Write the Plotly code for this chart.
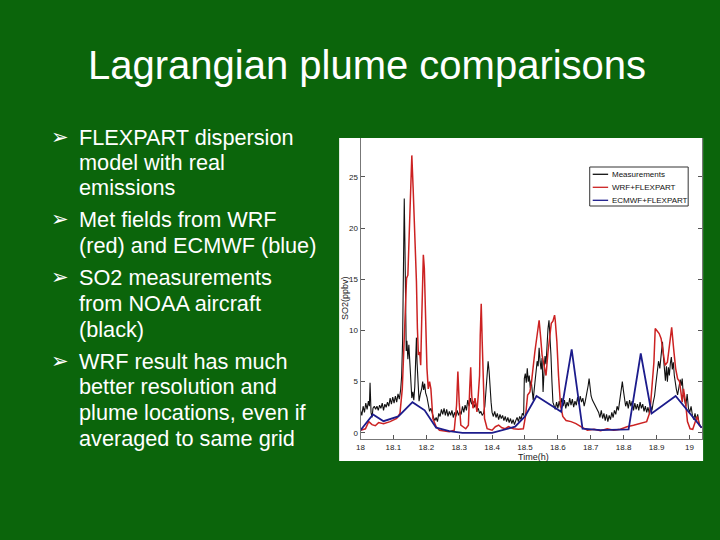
import plotly.graph_objects as go

# ---------------- data ----------------
meas_time = [18.000,18.004,18.008,18.012,18.016,18.020,18.024,18.027,18.029,18.032,18.035,18.038,18.042,18.046,18.050,18.054,18.058,18.062,18.066,18.070,
18.074,18.078,18.082,18.086,18.090,18.094,18.098,18.102,18.106,18.110,18.114,18.118,18.122,18.125,18.128,18.131,18.133,18.135,18.137,18.139,
18.141,18.144,18.147,18.150,18.153,18.156,18.159,18.162,18.165,18.168,18.170,18.172,18.175,18.178,18.182,18.186,18.189,18.192,18.195,18.198,
18.202,18.206,18.210,18.214,18.218,18.222,18.226,18.230,18.234,18.238,18.242,18.246,18.250,18.254,18.258,18.262,18.266,18.270,18.274,18.278,
18.282,18.286,18.290,18.294,18.298,18.302,18.306,18.310,18.314,18.318,18.322,18.326,18.330,18.334,18.338,18.342,18.346,18.350,18.354,18.358,
18.362,18.366,18.370,18.374,18.378,18.382,18.385,18.388,18.391,18.394,18.397,18.400,18.404,18.408,18.412,18.416,18.420,18.424,18.428,18.432,
18.436,18.440,18.444,18.448,18.452,18.456,18.460,18.464,18.468,18.472,18.476,18.480,18.484,18.488,18.492,18.496,18.498,18.501,18.504,18.507,
18.510,18.513,18.516,18.519,18.522,18.525,18.528,18.531,18.534,18.537,18.540,18.543,18.546,18.549,18.552,18.555,18.558,18.561,18.564,18.567,
18.570,18.573,18.576,18.579,18.582,18.585,18.588,18.592,18.596,18.600,18.604,18.608,18.612,18.616,18.620,18.624,18.628,18.632,18.636,18.640,
18.644,18.648,18.652,18.656,18.660,18.664,18.668,18.672,18.676,18.680,18.684,18.688,18.692,18.695,18.698,18.701,18.705,18.720,18.724,18.728,
18.732,18.736,18.740,18.744,18.748,18.752,18.756,18.760,18.764,18.768,18.772,18.776,18.780,18.784,18.788,18.792,18.796,18.799,18.802,18.806,
18.810,18.814,18.818,18.822,18.826,18.830,18.834,18.838,18.842,18.846,18.850,18.854,18.858,18.862,18.866,18.870,18.874,18.878,18.882,18.886,
18.890,18.894,18.898,18.902,18.906,18.910,18.914,18.918,18.921,18.924,18.927,18.930,18.933,18.936,18.939,18.942,18.945,18.948,18.951,18.954,
18.957,18.960,18.964,18.968,18.972,18.975,18.978,18.981,18.985,18.989,18.993,18.997,19.001,19.005,19.009,19.013,19.017,19.021,19.025,19.029,
19.033,19.037]
meas_so2 = [2.2,1.7,2.6,2.0,2.9,2.3,3.1,2.6,4.9,2.0,1.5,2.4,2.6,2.3,2.6,2.2,2.7,2.4,2.9,2.2,
2.8,2.5,3.0,2.6,3.4,2.8,3.5,2.9,3.6,3.0,3.8,3.3,4.2,5.5,9.0,16.0,22.9,18.5,12.0,8.0,
9.0,7.2,8.6,6.5,5.0,3.4,4.0,3.2,4.5,7.5,9.3,6.8,4.2,3.1,3.8,4.3,5.0,4.2,4.8,3.9,
3.5,2.8,2.1,2.4,1.8,1.5,1.2,1.5,1.1,1.9,1.6,2.3,1.8,2.4,1.7,2.3,1.6,2.1,1.7,2.2,
1.5,2.0,1.6,2.2,1.7,2.1,1.8,2.6,2.0,2.7,2.2,3.2,2.6,3.4,2.8,3.1,2.5,2.9,2.2,2.4,
1.9,2.1,1.7,1.9,2.6,4.3,6.3,7.0,6.0,4.2,3.0,2.0,1.6,2.1,1.5,1.9,1.3,1.8,1.4,1.7,
1.2,1.6,1.1,1.5,1.0,1.4,0.9,1.3,0.8,1.2,1.5,1.1,1.6,1.3,1.9,1.7,5.3,5.8,4.9,6.3,
5.0,5.6,4.4,5.1,4.0,3.2,4.2,5.0,5.8,7.0,6.5,8.3,7.0,6.2,7.3,4.0,6.0,7.5,6.7,8.8,
10.2,11.0,9.5,7.6,5.0,3.0,2.7,2.3,3.0,2.4,3.1,2.5,3.4,2.6,3.2,2.4,3.0,2.6,3.4,2.7,
3.3,2.5,3.1,2.7,3.5,2.8,3.6,3.0,3.4,2.6,3.2,3.8,4.6,5.3,4.4,3.6,3.2,2.2,2.0,1.5,
2.2,1.4,1.9,1.2,1.8,1.1,1.7,1.3,2.0,1.5,2.2,1.8,2.6,2.2,3.0,4.2,5.0,4.2,3.4,2.6,
3.1,2.4,3.2,2.6,3.1,2.2,2.9,2.3,2.8,2.2,3.0,2.4,2.8,2.1,2.6,2.0,2.5,1.9,2.6,2.2,
3.0,3.6,4.8,6.2,7.0,6.3,7.6,8.9,7.4,6.0,5.1,6.5,5.0,6.4,5.6,6.8,7.4,6.2,6.9,5.6,
4.8,4.3,3.7,4.4,5.2,4.6,5.3,3.9,3.2,2.6,3.8,2.4,2.0,2.6,1.7,1.3,1.9,1.2,1.8,1.0,
0.7,0.5]

wrf_time = [18.000,18.015,18.025,18.035,18.045,18.055,18.070,18.090,18.110,18.120,18.127,18.130,18.135,18.140,18.144,18.148,18.152,18.156,18.160,18.165,
18.170,18.173,18.176,18.180,18.183,18.186,18.188,18.191,18.194,18.198,18.202,18.206,18.210,18.214,18.220,18.230,18.240,18.270,18.285,18.292,
18.296,18.300,18.305,18.320,18.328,18.332,18.335,18.338,18.342,18.348,18.354,18.358,18.362,18.364,18.367,18.370,18.373,18.377,18.385,18.400,
18.410,18.420,18.430,18.440,18.450,18.465,18.480,18.495,18.502,18.508,18.515,18.520,18.530,18.537,18.543,18.548,18.552,18.558,18.564,18.570,
18.575,18.580,18.585,18.590,18.592,18.597,18.602,18.608,18.615,18.625,18.640,18.655,18.670,18.690,18.710,18.730,18.750,18.770,18.790,18.810,
18.830,18.850,18.870,18.880,18.886,18.892,18.896,18.902,18.908,18.914,18.920,18.926,18.933,18.940,18.946,18.952,18.958,18.964,18.970,18.978,
18.982,18.988,18.994,19.002,19.010,19.018,19.024,19.030,19.037]
wrf_so2 = [0.26,0.4,1.1,0.8,0.7,1.0,0.9,1.1,1.4,1.9,4.3,6.3,10.9,15.1,15.4,19.3,24.2,27.1,23.9,19.6,
14.8,10.2,7.6,7.9,6.6,10.9,14.8,17.4,16.1,10.9,6.3,4.3,5.0,4.3,1.4,0.6,0.26,0.1,0.26,2.7,
6.0,3.0,0.75,0.4,0.75,4.3,6.4,3.7,2.4,3.4,2.05,3.7,5.6,9.5,12.6,8.9,4.3,1.4,0.4,0.26,
0.6,0.75,0.5,0.4,0.6,0.4,0.35,0.4,1.7,3.7,4.0,5.0,7.9,9.5,11.0,9.2,7.6,6.6,5.6,7.9,
9.5,10.7,10.9,11.5,11.0,8.9,5.6,2.7,1.6,1.2,1.1,0.9,0.6,0.26,0.35,0.2,0.4,0.25,0.36,0.6,
0.75,0.9,1.1,2.05,4.3,6.9,10.2,9.9,9.7,9.2,7.9,6.6,6.9,8.9,10.3,8.2,6.3,5.3,5.0,3.0,
4.3,3.0,1.1,0.4,0.35,1.1,1.6,0.75,0.5]

ecmwf_time = [18.000,18.038,18.070,18.115,18.158,18.195,18.230,18.270,18.310,18.400,18.470,18.500,18.535,18.610,18.642,18.675,18.730,18.790,18.815,18.852,
18.885,18.958,19.037]
ecmwf_so2 = [0.26,1.8,1.14,1.6,3.0,2.2,0.5,0.16,0.0,0.0,0.6,1.6,3.6,2.05,8.15,0.4,0.26,0.33,0.33,7.75,
1.9,3.6,0.5]

series_names = ["Measurements", "WRF+FLEXPART", "ECMWF+FLEXPART"]
series_colors = ["#111111", "#cc2222", "#1c1c8c"]
series_widths = [1.1, 1.5, 1.8]
x_ticks = [18.0, 18.1, 18.2, 18.3, 18.4, 18.5, 18.6, 18.7, 18.8, 18.9, 19.0]
x_tick_labels = ["18", "18.1", "18.2", "18.3", "18.4", "18.5", "18.6", "18.7", "18.8", "18.9", "19"]
y_ticks = [0, 5, 10, 15, 20, 25]

title_text = "Lagrangian plume comparisons"
bullets = [
    ["FLEXPART dispersion", "model with real", "emissions"],
    ["Met fields from WRF", "(red) and ECMWF (blue)"],
    ["SO2 measurements", "from NOAA aircraft", "(black)"],
    ["WRF result has much", "better resolution and", "plume locations, even if", "averaged to same grid"],
]

# ---------------- figure ----------------
W, H = 720, 540
GREEN = "#0b650b"
FONT = "Liberation Sans, Arial, sans-serif"

fig = go.Figure()
for tx, ty, nm, col, wd in zip([meas_time, wrf_time, ecmwf_time],
                               [meas_so2, wrf_so2, ecmwf_so2],
                               series_names, series_colors, series_widths):
    fig.add_trace(go.Scatter(x=tx, y=ty, mode="lines", name=nm,
                             line=dict(color=col, width=wd), showlegend=False))

def px(x):
    return x / W

def py(y):
    return 1 - y / H

axis_font = dict(family=FONT, size=8, color="#222222")
fig.update_layout(
    width=W, height=H,
    margin=dict(l=0, r=0, t=0, b=0),
    paper_bgcolor=GREEN,
    plot_bgcolor="white",
    showlegend=False,
    xaxis=dict(domain=[px(358.5), px(702)], range=[18, 19.0385],
               tickvals=x_ticks, ticktext=x_tick_labels, ticks="inside", ticklen=4,
               tickcolor="#555555", showline=True, linecolor="#777777", linewidth=1,
               showgrid=False, zeroline=False, tickfont=axis_font),
    yaxis=dict(domain=[py(439), py(138)], range=[-0.6, 28.8],
               tickvals=y_ticks, ticks="inside", ticklen=4, tickcolor="#555555",
               showline=True, linecolor="#777777", linewidth=1, mirror="ticks",
               showgrid=False, zeroline=False, tickfont=axis_font),
)

# white chart image background
fig.add_shape(type="rect", xref="paper", yref="paper",
              x0=px(337), x1=px(703), y0=py(461), y1=py(138),
              fillcolor="white", line=dict(width=0), layer="below")

# legend box (drawn as text + sample lines)
fig.add_shape(type="rect", xref="paper", yref="paper",
              x0=px(589), x1=px(688), y0=py(206), y1=py(167),
              fillcolor="white", line=dict(color="#333333", width=1), layer="above")
for i, (nm, col) in enumerate(zip(series_names, series_colors)):
    yy = 174.3 + 13 * i
    fig.add_shape(type="line", xref="paper", yref="paper",
                  x0=px(592), x1=px(607.5), y0=py(yy), y1=py(yy),
                  line=dict(color=col, width=1.3), layer="above")
    fig.add_annotation(x=px(609.5), y=py(yy), xref="paper", yref="paper", text=nm,
                       xanchor="left", yanchor="middle", showarrow=False,
                       font=dict(family=FONT, size=8, color="#111111"))

# axis titles
fig.add_annotation(x=px(532), y=py(456.5), xref="paper", yref="paper", text="Time(h)",
                   xanchor="center", yanchor="middle", showarrow=False,
                   font=dict(family=FONT, size=9, color="#222222"))
fig.add_annotation(x=px(343), y=py(298), xref="paper", yref="paper", text="SO2(ppbv)",
                   xanchor="center", yanchor="middle",
                   textangle=-90, showarrow=False, font=dict(family=FONT, size=9, color="#222222"))

# slide title
fig.add_annotation(x=px(365), y=py(64.5), xref="paper", yref="paper", text=title_text,
                   xanchor="center", yanchor="middle",
                   showarrow=False, font=dict(family=FONT, size=40, color="white"))

# bullet text
line_y = [[137, 162, 187], [219, 245], [277, 303, 329], [361, 386, 412, 438]]
for group, ys in zip(bullets, line_y):
    fig.add_annotation(x=px(45), y=py(ys[0]), xref="paper", yref="paper", text="➢",
                       xanchor="left", yanchor="middle", showarrow=False,
                       font=dict(family="DejaVu Sans", size=21, color="white"))
    for txt, yy in zip(group, ys):
        fig.add_annotation(x=px(73), y=py(yy), xref="paper", yref="paper", text=txt,
                           xanchor="left", yanchor="middle", showarrow=False,
                           font=dict(family=FONT, size=21.7, color="white"))

fig.write_html("out.html", config={"displayModeBar": False},
               post_script="document.body.style.margin='0';")
